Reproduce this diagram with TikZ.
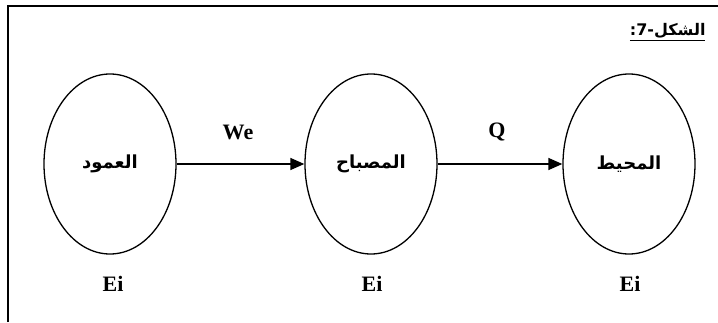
\documentclass[tikz,border=0pt]{standalone}
\usepackage{fontspec}
\setmainfont{Liberation Serif}
\newfontfamily\arabicfont[Script=Arabic]{DejaVu Sans}
\TeXXeTstate=1
\usetikzlibrary{shapes.geometric,arrows.meta}
\begin{document}
\begin{tikzpicture}[x=1pt,y=1pt,
  bubble/.style={draw,ellipse,line width=1.3pt,minimum width=132pt,minimum height=180pt,inner sep=0pt,
    font=\arabicfont\bfseries\fontsize{18}{21}\selectfont},
  flow/.style={line width=1.4pt,-{Triangle[length=14pt,width=12pt]}},
  lbl/.style={font=\bfseries\fontsize{22}{25}\selectfont}]
\useasboundingbox (0,0) rectangle (718,322);
\coordinate (fa) at (8,0);
\coordinate (fb) at (8,316);
\coordinate (fc) at (718,316);
\draw[line width=1.6pt] (fa) -- (fb) -- (fc);
\node[anchor=east,font=\arabicfont\bfseries\fontsize{16}{18}\selectfont] (title) at (709,290) {\underline{\beginR الشكل-7:\endR}};
\node[bubble] (a) at (110,158) {\beginR العمود\endR};
\node[bubble] (b) at (371,158) {\beginR المصباح\endR};
\node[bubble] (c) at (629,158) {\beginR المحيط\endR};
\draw[flow] (a) -- (b);
\draw[flow] (b) -- (c);
\node[lbl] (we) at (238,190) {We};
\node[lbl] (q) at (497,190) {Q};
\node[lbl] (ea) at (113,38) {Ei};
\node[lbl] (eb) at (372,38) {Ei};
\node[lbl] (ec) at (630,38) {Ei};
\end{tikzpicture}
\end{document}
